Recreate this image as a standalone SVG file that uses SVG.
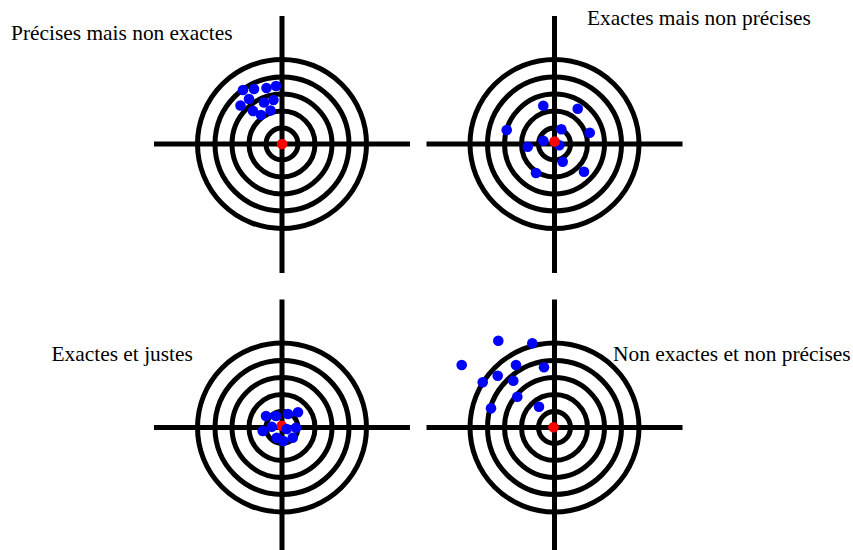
<svg xmlns="http://www.w3.org/2000/svg" width="853" height="550" viewBox="0 0 853 550">
<defs>
<style>
.ring{fill:none;stroke:#000;stroke-width:5}
.axis{stroke:#000;stroke-width:5}
.hit{fill:#0000ff}
.ctr{fill:#ff0000}
.lbl{font-family:"Liberation Serif","Times New Roman",serif;font-size:21.4px;fill:#000}
</style>
<g id="target">
<line class="axis" x1="-128" y1="0" x2="128" y2="0"/>
<line class="axis" x1="0" y1="-128" x2="0" y2="129"/>
<circle class="ring" r="16"/>
<circle class="ring" r="33"/>
<circle class="ring" r="50"/>
<circle class="ring" r="67"/>
<circle class="ring" r="84.5"/>
</g>
</defs>
<rect width="853" height="550" fill="#fff"/>

<g id="target-precise">
<use href="#target" x="282" y="144"/>
<circle class="ctr" cx="282" cy="144" r="5.3"/>
<g class="hit">
<circle cx="243" cy="90" r="5.3"/><circle cx="254" cy="89" r="5.3"/><circle cx="266.5" cy="88" r="5.3"/><circle cx="276" cy="86" r="5.3"/>
<circle cx="249" cy="99" r="5.3"/><circle cx="264" cy="102.5" r="5.3"/><circle cx="273.5" cy="100" r="5.3"/><circle cx="240.5" cy="105.5" r="5.3"/>
<circle cx="253" cy="111" r="5.3"/><circle cx="261" cy="115" r="5.3"/><circle cx="270.5" cy="110.5" r="5.3"/>
</g>
<text class="lbl" x="11" y="40">Précises mais non exactes</text>
</g>

<g id="target-exact">
<use href="#target" x="554.5" y="144"/>
<g class="hit">
<circle cx="543.3" cy="105.7" r="5.3"/><circle cx="577.7" cy="108.7" r="5.3"/><circle cx="506.7" cy="130" r="5.3"/><circle cx="561.3" cy="129.3" r="5.3"/>
<circle cx="589.7" cy="132.7" r="5.3"/><circle cx="543.3" cy="140.7" r="5.3"/><circle cx="559.3" cy="145.3" r="5.3"/><circle cx="527.7" cy="146.7" r="5.3"/>
<circle cx="562.7" cy="161.7" r="5.3"/><circle cx="536" cy="173" r="5.3"/><circle cx="584" cy="171.7" r="5.3"/>
</g>
<circle class="ctr" cx="554.5" cy="141.5" r="5.3"/>
<text class="lbl" x="587" y="25">Exactes mais non précises</text>
</g>

<g id="target-exact-precise">
<use href="#target" x="282" y="427.5"/>
<circle class="ctr" cx="281.7" cy="425.7" r="5.3"/>
<g class="hit">
<circle cx="266" cy="416" r="5.3"/><circle cx="276" cy="416" r="5.3"/><circle cx="288" cy="414" r="5.3"/><circle cx="298" cy="412.3" r="5.3"/>
<circle cx="262.7" cy="431" r="5.3"/><circle cx="271.7" cy="426.7" r="5.3"/><circle cx="286.7" cy="429" r="5.3"/><circle cx="296" cy="427.7" r="5.3"/>
<circle cx="276.7" cy="437.7" r="5.3"/><circle cx="283.3" cy="441" r="5.3"/><circle cx="292.7" cy="437.7" r="5.3"/>
</g>
<text class="lbl" x="51.5" y="361">Exactes et justes</text>
</g>

<g id="target-neither">
<use href="#target" x="554.5" y="427.5"/>
<circle class="ctr" cx="553.5" cy="427.3" r="5.3"/>
<g class="hit">
<circle cx="498.3" cy="340.7" r="5.3"/><circle cx="532.3" cy="343.3" r="5.3"/><circle cx="461.7" cy="365" r="5.3"/><circle cx="516" cy="365" r="5.3"/>
<circle cx="544" cy="367.3" r="5.3"/><circle cx="497.7" cy="375.7" r="5.3"/><circle cx="482.7" cy="382.3" r="5.3"/><circle cx="513.3" cy="380.7" r="5.3"/>
<circle cx="517.3" cy="396.7" r="5.3"/><circle cx="491" cy="408.3" r="5.3"/><circle cx="539" cy="406.7" r="5.3"/>
</g>
<text class="lbl" x="613" y="361">Non exactes et non précises</text>
</g>
</svg>
